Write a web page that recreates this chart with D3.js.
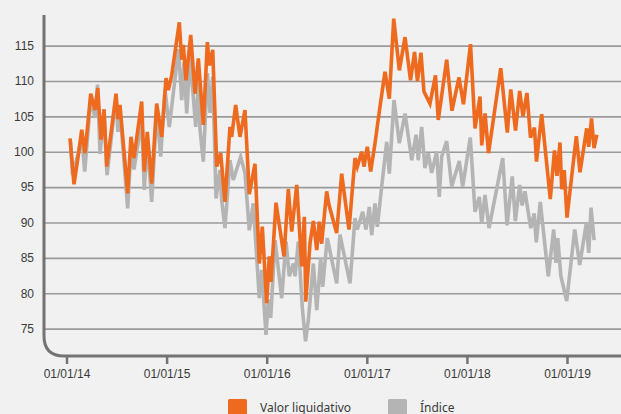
<!DOCTYPE html>
<html>
<head>
<meta charset="utf-8">
<script src="https://cdn.jsdelivr.net/npm/d3@7"></script>
<style>
  html, body { margin: 0; padding: 0; background: #f1f1f1; }
  svg { display: block; font-family: "Noto Sans", "Open Sans", sans-serif; }
  .grid line { stroke: #9a9a9a; stroke-width: 1.6; }
  .grid path { display: none; }
  .tick text { fill: #3a3a3a; font-size: 12px; }
</style>
</head>
<body>
<div id="chart"></div>
<script>
// Dates as decimal years.
var valorT = [2014.035, 2014.075, 2014.118, 2014.152, 2014.185, 2014.242, 2014.285, 2014.312, 2014.345, 2014.375,
  2014.402, 2014.495, 2014.514, 2014.534, 2014.611, 2014.644, 2014.674, 2014.751, 2014.777, 2014.807,
  2014.851, 2014.901, 2014.951, 2014.994, 2015.017, 2015.051, 2015.127, 2015.151, 2015.167, 2015.194,
  2015.241, 2015.284, 2015.317, 2015.367, 2015.407, 2015.427, 2015.461, 2015.501, 2015.540, 2015.583,
  2015.633, 2015.650, 2015.690, 2015.733, 2015.783, 2015.826, 2015.883, 2015.926, 2015.956, 2016.000,
  2016.026, 2016.043, 2016.093, 2016.173, 2016.216, 2016.250, 2016.300, 2016.350, 2016.376, 2016.390,
  2016.433, 2016.466, 2016.500, 2016.525, 2016.549, 2016.599, 2016.622, 2016.699, 2016.749, 2016.822,
  2016.882, 2016.905, 2016.949, 2016.972, 2017.005, 2017.039, 2017.082, 2017.132, 2017.182, 2017.225,
  2017.269, 2017.325, 2017.382, 2017.437, 2017.477, 2017.506, 2017.541, 2017.571, 2017.631, 2017.686,
  2017.714, 2017.798, 2017.851, 2017.921, 2017.966, 2018.036, 2018.081, 2018.131, 2018.148, 2018.181,
  2018.216, 2018.338, 2018.404, 2018.438, 2018.486, 2018.527, 2018.560, 2018.600, 2018.635, 2018.675,
  2018.695, 2018.747, 2018.833, 2018.875, 2018.900, 2018.930, 2018.947, 2018.972, 2019.000, 2019.093,
  2019.130, 2019.197, 2019.217, 2019.245, 2019.270, 2019.298];
var valorV = [101.9, 95.4, 99.5, 103.1, 99.8, 108.2, 105.9, 109.0, 101.7, 106.0,
  97.9, 108.2, 104.6, 106.6, 94.1, 102.1, 99.1, 107.1, 97.2, 102.8,
  95.5, 106.8, 102.1, 110.4, 108.7, 110.8, 118.3, 113.0, 115.1, 110.1,
  116.5, 108.2, 113.2, 103.8, 115.5, 112.2, 114.4, 97.9, 99.8, 92.9,
  103.5, 102.1, 106.6, 102.1, 105.9, 94.0, 98.3, 84.2, 89.4, 78.6,
  85.2, 81.6, 92.8, 85.2, 94.7, 88.7, 95.3, 83.8, 90.8, 78.8,
  87.1, 90.2, 86.1, 90.1, 87.0, 94.4, 92.5, 88.5, 96.9, 89.0,
  99.1, 97.9, 100.0, 97.9, 100.7, 97.2, 101.2, 106.4, 111.3, 107.5,
  118.8, 111.5, 116.2, 110.1, 114.1, 110.0, 114.0, 108.5, 106.8, 110.8,
  104.5, 113.0, 105.8, 110.5, 106.7, 115.2, 103.3, 107.8, 100.9, 105.4,
  99.8, 111.8, 102.7, 108.8, 103.0, 108.6, 105.0, 108.3, 102.0, 103.4,
  98.6, 105.3, 93.3, 100.2, 96.6, 101.3, 94.7, 97.4, 90.7, 102.2,
  97.1, 103.3, 100.7, 104.7, 100.5, 102.4];

var indiceT = [2014.040, 2014.060, 2014.118, 2014.152, 2014.182, 2014.242, 2014.285, 2014.310, 2014.335, 2014.375,
  2014.405, 2014.495, 2014.514, 2014.534, 2014.611, 2014.644, 2014.674, 2014.751, 2014.777, 2014.807,
  2014.851, 2014.901, 2014.941, 2014.984, 2015.027, 2015.119, 2015.151, 2015.174, 2015.201, 2015.234,
  2015.291, 2015.317, 2015.334, 2015.367, 2015.407, 2015.434, 2015.461, 2015.494, 2015.533, 2015.550,
  2015.583, 2015.633, 2015.666, 2015.740, 2015.783, 2015.826, 2015.866, 2015.926, 2015.950, 2015.993,
  2016.016, 2016.040, 2016.083, 2016.150, 2016.193, 2016.226, 2016.266, 2016.283, 2016.316, 2016.356,
  2016.388, 2016.416, 2016.466, 2016.500, 2016.539, 2016.559, 2016.605, 2016.699, 2016.732, 2016.832,
  2016.882, 2016.905, 2016.959, 2016.992, 2017.025, 2017.049, 2017.082, 2017.105, 2017.149, 2017.199,
  2017.225, 2017.272, 2017.325, 2017.382, 2017.449, 2017.492, 2017.514, 2017.548, 2017.581, 2017.614,
  2017.648, 2017.698, 2017.724, 2017.748, 2017.798, 2017.848, 2017.924, 2017.958, 2018.034, 2018.081,
  2018.124, 2018.148, 2018.181, 2018.221, 2018.358, 2018.401, 2018.453, 2018.484, 2018.527, 2018.552,
  2018.580, 2018.638, 2018.672, 2018.693, 2018.733, 2018.813, 2018.867, 2018.890, 2018.908, 2018.938,
  2018.997, 2019.077, 2019.127, 2019.193, 2019.217, 2019.240, 2019.271];
var indiceV = [101.5, 96.7, 99.8, 102.3, 97.2, 107.5, 104.8, 109.5, 99.7, 105.5,
  96.7, 107.8, 102.8, 106.0, 92.0, 100.3, 97.5, 104.5, 94.6, 101.5,
  92.9, 105.9, 99.3, 108.7, 103.5, 114.5, 107.3, 112.6, 105.4, 113.4,
  103.5, 109.7, 103.1, 98.6, 111.1, 105.5, 110.6, 93.4, 97.4, 93.2,
  89.2, 98.8, 96.0, 99.3, 97.0, 88.9, 92.7, 79.3, 83.3, 74.1,
  79.1, 76.5, 87.5, 79.3, 87.3, 82.4, 84.2, 82.4, 87.3, 77.9,
  73.2, 76.2, 84.2, 77.6, 85.0, 80.9, 87.8, 81.4, 88.3, 81.4,
  90.6, 89.0, 91.5, 89.0, 92.2, 88.2, 92.7, 89.4, 95.1, 101.4,
  96.9, 107.3, 101.2, 105.4, 98.8, 102.4, 98.8, 103.5, 97.7, 99.8,
  97.0, 100.0, 93.6, 99.3, 101.5, 95.1, 98.7, 95.1, 102.0, 91.5,
  93.6, 89.9, 93.9, 89.2, 99.1, 89.6, 96.5, 90.2, 95.3, 92.4,
  94.4, 89.2, 91.3, 87.2, 92.9, 82.4, 89.0, 84.3, 87.8, 82.5,
  78.9, 89.0, 84.0, 89.9, 85.7, 92.1, 87.5];

var yearTicks = [2014, 2015, 2016, 2017, 2018, 2019];
var valueTicks = [75, 80, 85, 90, 95, 100, 105, 110, 115];
var seriesNames = ["Valor liquidativo", "Índice"];
var seriesColors = ["#ee6a1f", "#b4b4b4"];

var width = 621;
var height = 414;
var axisX = 44;        // vertical axis line
var axisY = 356;       // horizontal axis line
var corner = 20;

var xScale = d3.scaleLinear().domain([2014, 2019]).range([66.5, 567]);
var yScale = d3.scaleLinear().domain([75, 115]).range([328.6, 45.6]);

var svg = d3.select("#chart").append("svg")
  .attr("width", width)
  .attr("height", height);

svg.append("rect")
  .attr("width", width)
  .attr("height", height)
  .attr("fill", "#f1f1f1");

// Horizontal gridlines and value labels.
var yAxis = svg.append("g")
  .attr("class", "grid")
  .attr("transform", "translate(" + (axisX + 1) + ",0)")
  .call(d3.axisLeft(yScale)
    .tickValues(valueTicks)
    .tickSize(-(width - axisX))
    .tickPadding(11));

// Axis frame with the rounded corner.
svg.append("path")
  .attr("d", "M" + axisX + ",15 V" + (axisY - corner) +
    " Q" + axisX + "," + axisY + " " + (axisX + corner) + "," + axisY +
    " H" + width)
  .attr("fill", "none")
  .attr("stroke", "#737373")
  .attr("stroke-width", 3);

// Year ticks.
var xAxis = svg.append("g")
  .attr("transform", "translate(0," + axisY + ")")
  .call(d3.axisBottom(xScale)
    .tickValues(yearTicks)
    .tickSize(8)
    .tickPadding(5)
    .tickFormat(function(d) { return "01/01/" + String(d).slice(2); }));
xAxis.select(".domain").remove();
xAxis.selectAll(".tick line").attr("stroke", "#737373").attr("stroke-width", 2.5);

// The two series: index underneath, fund value on top.
var line = d3.line()
  .x(function(d) { return xScale(d[0]); })
  .y(function(d) { return yScale(d[1]); });

var series = [
  d3.zip(indiceT, indiceV),
  d3.zip(valorT, valorV)
];
var colorsInOrder = [seriesColors[1], seriesColors[0]];

svg.selectAll(".series")
  .data(series)
  .enter().append("path")
  .attr("class", "series")
  .attr("d", line)
  .attr("fill", "none")
  .attr("stroke", function(d, i) { return colorsInOrder[i]; })
  .attr("stroke-width", 3.6)
  .attr("stroke-linejoin", "miter")
  .attr("stroke-miterlimit", 4);

// Legend.
var legendX = [228, 388];
var legend = svg.selectAll(".legend")
  .data(seriesNames)
  .enter().append("g")
  .attr("class", "legend")
  .attr("transform", function(d, i) { return "translate(" + legendX[i] + ",399)"; });

legend.append("rect")
  .attr("width", 19)
  .attr("height", 19)
  .attr("rx", 1.5)
  .attr("fill", function(d, i) { return seriesColors[i]; });

legend.append("text")
  .attr("x", 32)
  .attr("y", 12.5)
  .attr("font-size", 12)
  .attr("fill", "#3a3a3a")
  .text(function(d) { return d; });
</script>
</body>
</html>
